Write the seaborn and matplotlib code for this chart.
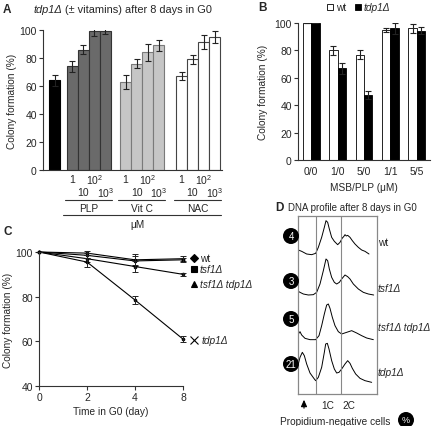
import numpy as np
import pandas as pd
import matplotlib
matplotlib.use("Agg")
import matplotlib.pyplot as plt
import seaborn as sns
from matplotlib.patches import Circle, Rectangle
from matplotlib.transforms import blended_transform_factory

# ---------------- data ----------------
# Panel A
a_control = [64]
a_control_err = [4]
a_dose_labels = ["1", "10", "10$^2$", "10$^3$"]
a_groups = ["PLP", "Vit C", "NAC"]
a_plp = [74, 86, 99, 99.5]
a_plp_err = [4, 3, 3, 2.5]
a_vitc = [63, 76, 84, 89]
a_vitc_err = [5, 3, 6, 4]
a_nac = [67, 79, 91.5, 95]
a_nac_err = [3, 3, 5, 4]

# Panel B
b_conditions = ["0/0", "1/0", "5/0", "1/1", "5/5"]
b_wt = [100, 80, 77, 95, 96]
b_wt_err = [0, 3.5, 3, 1.5, 3.5]
b_tdp1 = [100, 67, 47.5, 96, 94.5]
b_tdp1_err = [0, 4, 3, 4, 2.5]

# Panel C
c_days = ["0", "2", "4", "8"]
c_wt = [100, 99.5, 96.5, 97]
c_wt_err = [0, 0.8, 2.8, 1]
c_tsf1 = [100, 98.5, 96, 96.5]
c_tsf1_err = [0, 1, 2, 1]
c_tsf1_tdp1 = [100, 97, 93.5, 90]
c_tsf1_tdp1_err = [0, 1.5, 2.5, 0.8]
c_tdp1 = [100, 95.5, 78.5, 61]
c_tdp1_err = [0, 2, 2, 1.5]

# Panel D: DNA content histograms (channel, relative count)
d_strains = ["wt", "tsf1Δ", "tsf1Δ tdp1Δ", "tdp1Δ"]
d_percent = ["4", "3", "5", "21"]
d_wt_ch = [10, 20, 35, 50, 62, 70, 80, 88, 93, 98, 103, 110, 118, 128, 135, 142, 146, 150,
           154, 158, 165, 172, 180, 190, 200, 210, 222]
d_wt_cnt = [22, 18, 10, 8, 12, 30, 60, 90, 110, 105, 85, 60, 48, 38, 45, 58, 62, 68,
            64, 66, 60, 50, 40, 30, 22, 18, 10]
d_tsf1_ch = [10, 15, 25, 40, 55, 65, 75, 85, 93, 98, 103, 110, 118, 125, 133, 140, 150,
             158, 165, 175, 190, 205, 220, 236]
d_tsf1_cnt = [18, 15, 10, 7, 8, 15, 40, 80, 115, 110, 85, 60, 45, 40, 45, 55, 67,
              62, 55, 40, 25, 15, 10, 7]
d_dbl_ch = [10, 15, 20, 30, 45, 62, 72, 80, 88, 95, 100, 105, 112, 120, 130, 140, 155,
            170, 185, 200, 215, 235]
d_dbl_cnt = [25, 32, 22, 12, 8, 8, 20, 50, 85, 112, 115, 102, 75, 50, 32, 25, 30,
             35, 28, 20, 13, 8]
d_tdp1_ch = [10, 15, 22, 28, 35, 45, 58, 62, 70, 80, 88, 92, 97, 102, 110, 118, 125,
             132, 140, 150, 158, 165, 172, 182, 195, 210, 230]
d_tdp1_cnt = [60, 80, 95, 85, 60, 33, 15, 10, 20, 50, 95, 120, 122, 105, 70, 45, 33,
              35, 45, 60, 70, 62, 47, 30, 17, 10, 5]
d_gates = [62, 138]

# ---------------- style ----------------
sns.set_style("ticks")
plt.rcParams["font.family"] = ["Liberation Sans", "DejaVu Sans"]
plt.rcParams["mathtext.fontset"] = "custom"
plt.rcParams["mathtext.rm"] = "Liberation Sans"
plt.rcParams["mathtext.it"] = "Liberation Sans:italic"
FS = 7.3
TFS = 7.5

W, H = 436, 427
fig = plt.figure(figsize=(W / 100, H / 100), dpi=100)


def px_axes(l, t, r, b):
    return fig.add_axes([l / W, 1 - b / H, (r - l) / W, (b - t) / H])


ov = fig.add_axes([0, 0, 1, 1], zorder=10)
ov.set_xlim(0, W)
ov.set_ylim(H, 0)
ov.axis("off")
ov.patch.set_alpha(0)
renderer = fig.canvas.get_renderer()


def rich(x, y, parts, size=FS):
    cur = x
    for s, st in parts:
        t = ov.text(cur, y, s, fontsize=size, style=st, va="center", ha="left")
        bb = t.get_window_extent(renderer)
        cur += bb.width


def style(ax):
    sns.despine(ax=ax)
    for s in ["left", "bottom"]:
        ax.spines[s].set_linewidth(0.8)
        ax.spines[s].set_color("#333333")
    ax.tick_params(direction="out", length=3, width=0.8, labelsize=TFS, pad=1.5,
                   color="#333333")


# ---------------- Panel A ----------------
axA = px_axes(43, 31, 222, 171)
group_starts = [1.59, 6.41, 11.5]
groups_vals = [a_plp, a_vitc, a_nac]
groups_err = [a_plp_err, a_vitc_err, a_nac_err]
group_fill = ["#6a6a6a", "#c6c6c6", "white"]
group_edge = ["#333333", "#7a7a7a", "#444444"]

sns.barplot(x=[0.0], y=a_control, native_scale=True, width=1.0, color="black",
            edgecolor="black", linewidth=0.8, errorbar=None, ax=axA)
axA.errorbar([0.0], a_control, yerr=a_control_err, fmt="none", ecolor="#222222",
             elinewidth=0.8, capsize=2.5, capthick=0.8)
all_pos = []
for start, vals, errs, fc, ec in zip(group_starts, groups_vals, groups_err, group_fill, group_edge):
    pos = [start + i for i in range(len(vals))]
    all_pos.append(pos)
    sns.barplot(x=pos, y=vals, native_scale=True, width=1.0, color=fc, edgecolor=ec,
                linewidth=0.8, errorbar=None, saturation=1, ax=axA)
    axA.errorbar(pos, vals, yerr=errs, fmt="none", ecolor="#222222", elinewidth=0.8,
                 capsize=2.5, capthick=0.8)
axA.set_xlim(-1.09, 15.18)
axA.set_ylim(0, 100)
axA.set_yticks(range(0, 101, 20))
axA.set_xticks([])
axA.set_xlabel("")
style(axA)

trA = blended_transform_factory(axA.transData, ov.transData)
for pos, gname in zip(all_pos, a_groups):
    for i, lab in enumerate(a_dose_labels):
        yy = 180 if i % 2 == 0 else 193
        ov.text(pos[i], yy, lab, transform=trA, ha="center", va="center", fontsize=TFS)
    ov.plot([pos[0] - 0.7, pos[-1] + 0.6], [201, 201], transform=trA, color="#333333",
            lw=0.8, clip_on=False)
    ov.text((pos[0] + pos[-1]) / 2, 209, gname, transform=trA, ha="center", va="center",
            fontsize=FS)
ov.plot([all_pos[0][0] - 0.9, all_pos[-1][-1] + 0.6], [216, 216], transform=trA,
        color="#333333", lw=0.8, clip_on=False)
ov.text(137, 225, "μM", ha="center", va="center", fontsize=FS)
ov.text(12, 101, "Colony formation (%)", rotation=90, ha="center", va="center", fontsize=FS)
ov.text(3, 10, "A", fontsize=8.5, fontweight="bold", va="center")
rich(33, 10, [("tdp1Δ", "italic"), (" (± vitamins) after 8 days in G0", "normal")], size=7.9)

# ---------------- Panel B ----------------
axB = px_axes(298, 24, 430, 161)
dfB = pd.DataFrame({
    "cond": b_conditions * 2,
    "strain": ["wt"] * len(b_conditions) + ["tdp1Δ"] * len(b_conditions),
    "value": b_wt + b_tdp1,
    "err": b_wt_err + b_tdp1_err,
})
sns.barplot(data=dfB, x="cond", y="value", hue="strain", order=b_conditions,
            hue_order=["wt", "tdp1Δ"], palette={"wt": "white", "tdp1Δ": "black"},
            edgecolor="black", linewidth=0.6, width=0.64, errorbar=None, saturation=1,
            legend=False, ax=axB)
for cont, errs in zip(axB.containers, [b_wt_err, b_tdp1_err]):
    xs = [b.get_x() + b.get_width() / 2 for b in cont]
    ys = [b.get_height() for b in cont]
    axB.errorbar(xs, ys, yerr=errs, fmt="none", ecolor="#222222", elinewidth=0.8,
                 capsize=2.5, capthick=0.8)
axB.set_ylim(0, 100)
axB.set_xlim(-0.5, 4.5)
axB.set_yticks(range(0, 101, 20))
axB.set_xlabel("")
axB.set_ylabel("")
style(axB)
axB.tick_params(axis="x", length=0, pad=4)
ov.text(364, 188, "MSB/PLP (μM)", ha="center", va="center", fontsize=FS)
ov.text(263, 92, "Colony formation (%)", rotation=90, ha="center", va="center", fontsize=FS)
ov.text(258, 8, "B", fontsize=8.5, fontweight="bold", va="center")
ov.add_patch(Rectangle((327, 5), 6, 6, fc="white", ec="black", lw=0.6))
rich(336, 8, [("wt", "normal")])
ov.add_patch(Rectangle((355, 5), 6, 6, fc="black", ec="black", lw=0.6))
rich(364, 8, [("tdp1Δ", "italic")])

# ---------------- Panel C ----------------
axC = px_axes(39, 253, 183, 387)
c_series = [c_wt, c_tsf1, c_tsf1_tdp1, c_tdp1]
c_errs = [c_wt_err, c_tsf1_err, c_tsf1_tdp1_err, c_tdp1_err]
for vals, errs in zip(c_series, c_errs):
    sns.pointplot(x=c_days, y=vals, order=c_days, color="black", markers="o",
                  markersize=2, linewidth=0.8, errorbar=None, ax=axC)
    axC.errorbar(range(len(c_days)), vals, yerr=errs, fmt="none", ecolor="#222222",
                 elinewidth=0.7, capsize=2, capthick=0.7, clip_on=False)
for ln in axC.lines:
    ln.set_clip_on(False)
axC.set_xlim(0, 3)
axC.set_ylim(40, 100)
axC.set_yticks([40, 60, 80, 100])
axC.set_xlabel("")
axC.set_ylabel("")
style(axC)
ov.text(8, 320, "Colony formation (%)", rotation=90, ha="center", va="center", fontsize=FS)
ov.text(111, 412, "Time in G0 (day)", ha="center", va="center", fontsize=FS)
ov.text(3, 232, "C", fontsize=8.5, fontweight="bold", va="center")
leg_items = [("D", 259, [("wt", "normal")]),
             ("s", 270, [("tsf1Δ", "italic")]),
             ("^", 285, [("tsf1Δ tdp1Δ", "italic")]),
             ("x", 341, [("tdp1Δ", "italic")])]
for mk, yy, parts in leg_items:
    ms = 5.5 if mk == "x" else 4.5
    ov.plot([194], [yy], marker=mk, color="black", ms=ms, mew=0.8, ls="none")
    rich(200 if mk != "x" else 202, yy, parts)

# ---------------- Panel D ----------------
axD = px_axes(298, 217, 377, 395)
d_traces = [(d_wt_ch, d_wt_cnt), (d_tsf1_ch, d_tsf1_cnt), (d_dbl_ch, d_dbl_cnt),
            (d_tdp1_ch, d_tdp1_cnt)]
row_base = [130, 250, 385, 510]
for (ch, cnt), base in zip(d_traces, row_base):
    sns.lineplot(x=ch, y=[base - c for c in cnt], color="black", lw=0.7,
                 estimator=None, sort=False, ax=axD)
for g in d_gates:
    axD.axvline(g, color="#888888", lw=0.8)
axD.set_xlim(9, 246)
axD.set_ylim(540, 6)
axD.set_xticks([])
axD.set_yticks([])
for s in axD.spines.values():
    s.set_visible(True)
    s.set_color("#888888")
    s.set_linewidth(0.9)

circle_y = [237, 282, 320, 365]
for yy, pct in zip(circle_y, d_percent):
    ov.add_patch(Circle((291, yy), 8, fc="black", ec="none", zorder=11))
    ov.text(291, yy, pct, color="white", ha="center", va="center", fontsize=7, zorder=12)
label_y = [243, 289, 328, 373]
for yy, name in zip(label_y, d_strains):
    ov.text(378, yy, name, ha="left", va="center", fontsize=FS,
            style="normal" if name == "wt" else "italic")
ov.text(275, 208, "D", fontsize=8.5, fontweight="bold", va="center")
ov.text(288, 208, "DNA profile after 8 days in G0", fontsize=7.0, va="center")
ov.annotate("", xy=(304, 398), xytext=(304, 412),
            arrowprops=dict(arrowstyle="-|>,head_width=0.18,head_length=0.4", color="black", lw=0.8))
ov.text(328, 406, "1C", ha="center", va="center", fontsize=FS)
ov.text(349, 406, "2C", ha="center", va="center", fontsize=FS)
ov.text(335, 422, "Propidium-negative cells", ha="center", va="center", fontsize=FS)
ov.add_patch(Circle((406, 421), 8, fc="black", ec="none", zorder=11))
ov.text(406, 421, "%", color="white", ha="center", va="center", fontsize=6.5, zorder=12)

fig.savefig("out.png", dpi=100)
